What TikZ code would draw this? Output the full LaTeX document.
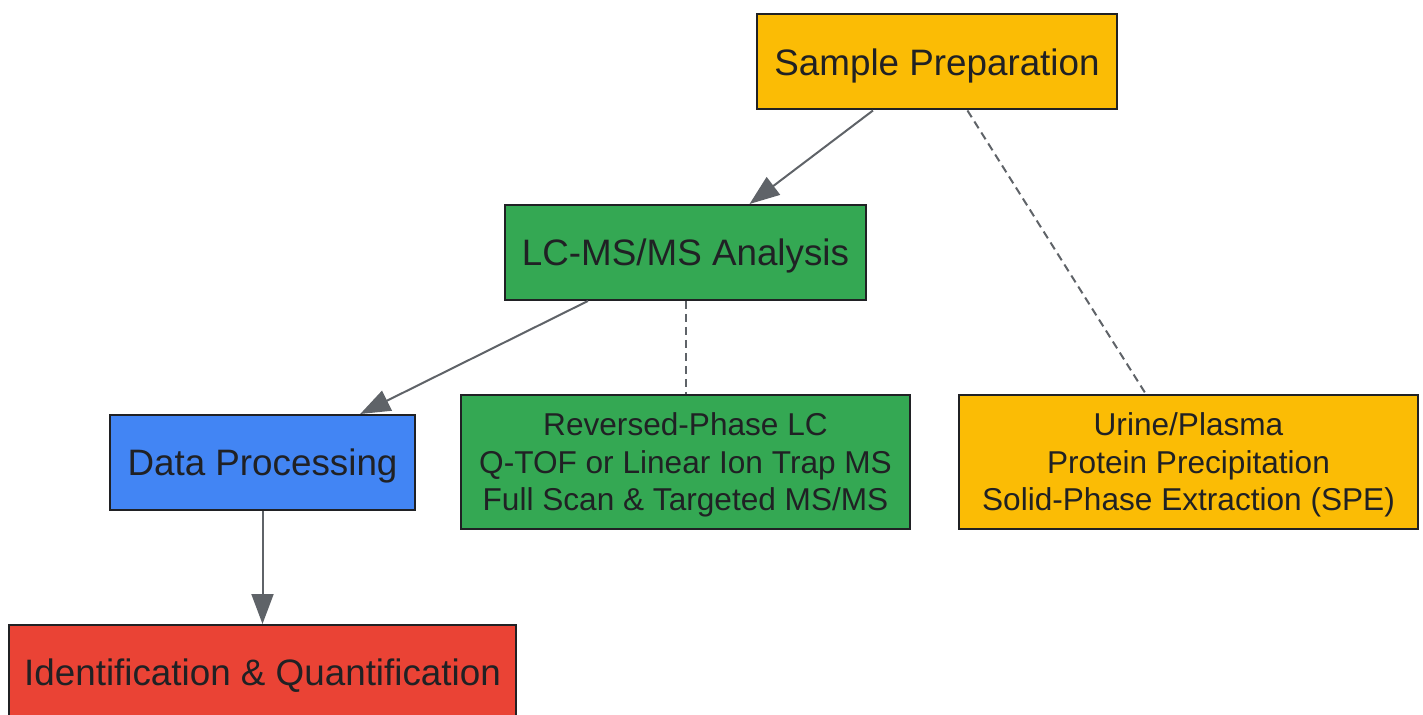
\documentclass[tikz,border=0pt]{standalone}
\usepackage{fontspec}
\setmainfont{Liberation Sans}
\usepackage{tikz}
\usetikzlibrary{arrows.meta,positioning}

\definecolor{prepyellow}{HTML}{FBBC05}
\definecolor{lcgreen}{HTML}{34A853}
\definecolor{procblue}{HTML}{4285F4}
\definecolor{idred}{HTML}{EA4335}
\definecolor{inkgray}{HTML}{202124}
\definecolor{edgegray}{HTML}{5F6368}

\tikzset{
  stepbox/.style={draw=inkgray, line width=1pt, text=inkgray, align=center,
    inner sep=0pt, minimum height=47.5pt, text depth=0pt,
    font=\fontsize{18.4}{22}\selectfont},
  notebox/.style={stepbox, minimum height=67pt,
    font=\fontsize{15.8}{18.75}\selectfont},
  flow/.style={draw=edgegray, line width=1pt,
    -{Triangle[length=15pt,width=11pt]}},
  detail/.style={draw=edgegray, line width=1pt, dash pattern=on 4pt off 2.5pt}
}

\begin{document}
\begin{tikzpicture}[x=0.5pt,y=0.5pt,yscale=-1,xscale=1]
\useasboundingbox (0,0) rectangle (1423,715);

% Main steps
\node [stepbox, fill=prepyellow, minimum width=180pt] (prep) at (937,62) {Sample Preparation};
\node [stepbox, fill=lcgreen, minimum width=180.5pt] (lcms) at (685.5,252.5) {LC-MS/MS Analysis};
\node [stepbox, fill=procblue, minimum width=152.5pt] (proc) at (262.5,462.5) {Data Processing};
\node [stepbox, fill=idred, minimum width=253.5pt] (ident) at (262.5,672.5) {Identification \& Quantification};

% Details
\node [notebox, fill=lcgreen, minimum width=224.5pt] (lcnote) at (685.5,462) {Reversed-Phase LC\\Q-TOF or Linear Ion Trap MS\\Full Scan \& Targeted MS/MS};
\node [notebox, fill=prepyellow, minimum width=229.5pt] (prepnote) at (1188.5,462) {Urine/Plasma\\Protein Precipitation\\Solid-Phase Extraction (SPE)};

% Connectors
\draw [flow] (prep) -- (lcms);
\draw [flow] (lcms) -- (proc);
\draw [flow] (proc) -- (ident);
\draw [detail] (prep) -- (prepnote);
\draw [detail] (lcms) -- (lcnote);

\end{tikzpicture}
\end{document}
